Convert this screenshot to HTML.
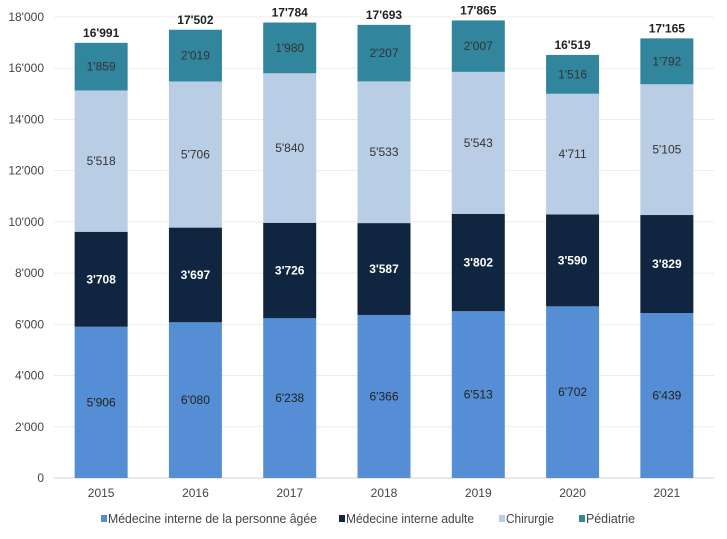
<!DOCTYPE html>
<html><head><meta charset="utf-8"><style>
body{margin:0;background:#fff;}
svg{font-family:"Liberation Sans",sans-serif;display:block}
</style></head><body>
<svg id="c" width="727" height="539"></svg>
<script>
const years=["2015","2016","2017","2018","2019","2020","2021"];
const mipa=[5906,6080,6238,6366,6513,6702,6439];
const mia=[3708,3697,3726,3587,3802,3590,3829];
const chir=[5518,5706,5840,5533,5543,4711,5105];
const ped=[1859,2019,1980,2207,2007,1516,1792];
const totals=[16991,17502,17784,17693,17865,16519,17165];
const yTicks=[0,2000,4000,6000,8000,10000,12000,14000,16000,18000];
const seriesNames=["Médecine interne de la personne âgée","Médecine interne adulte","Chirurgie","Pédiatrie"];
const colors=["#558ed5","#10253f","#b9cde5","#31859c"];
const textCol=["#222","#fff","#333","#333"];
const svg=document.getElementById('c');const NS="http://www.w3.org/2000/svg";
const x0=54,x1=714,yb=478,yt=17,ymax=18000;
const y=v=>yb-(v/ymax)*(yb-yt);
const band=(x1-x0)/years.length;
const xc=i=>x0+band*(i+0.5);
const bw=53;
const fmt=v=>{const s=String(v);return s.length>3?s.slice(0,-3)+"'"+s.slice(-3):s;};
function el(t,a,txt){const e=document.createElementNS(NS,t);for(const k in a)e.setAttribute(k,a[k]);if(txt!==undefined)e.textContent=txt;svg.appendChild(e);return e;}
yTicks.forEach(t=>{
 const g=el('line',{x1:x0,x2:x1,y1:y(t),y2:y(t),stroke:t===0?'#d0d0d0':'#ececec','stroke-width':1});
 
 
 const l=el('text',{x:44,y:y(t)+4,'text-anchor':'end','font-size':12,fill:'#444'},fmt(t));
 
 
});
const series=[mipa,mia,chir,ped];
years.forEach((yr,i)=>{
 let base=0;
 series.forEach((s,k)=>{
  const v=s[i];
  const r=el('rect',{x:xc(i)-bw/2,y:y(base+v),width:bw,height:y(base)-y(base+v),fill:colors[k]});
  
  
  const t=el('text',{x:xc(i),y:(y(base)+y(base+v))/2+4,'text-anchor':'middle','font-size':12,fill:textCol[k],'font-weight':k===1?'bold':'normal'},fmt(v));
  
  
  base+=v;
 });
 const tt=el('text',{x:xc(i),y:y(totals[i])-6,'text-anchor':'middle','font-size':12,'font-weight':'bold',fill:'#222'},fmt(totals[i]));
 
 
 const xl=el('text',{x:xc(i),y:497,'text-anchor':'middle','font-size':12,fill:'#444'},yr);
 
 
});
const lx=[101,339,499,579];
const lw=[209,128,48,49];
seriesNames.forEach((n,k)=>{
 const r=el('rect',{x:lx[k],y:515,width:6,height:7,fill:colors[k]});
 
 
 const t=el('text',{x:lx[k]+7,y:523,'font-size':13,fill:'#444',textLength:lw[k],lengthAdjust:'spacingAndGlyphs'},n);
 
 
});
</script>
</body></html>
